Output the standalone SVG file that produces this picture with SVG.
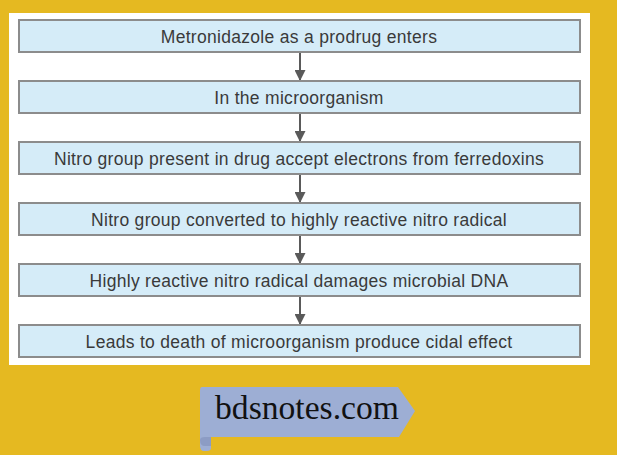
<svg xmlns="http://www.w3.org/2000/svg" width="617" height="455" viewBox="0 0 617 455">
<defs>
<style>
.box{fill:#d5ecf8;stroke:#8c8c8c;stroke-width:2}
.t{font-family:"Liberation Sans",Arial,sans-serif;font-size:17.5px;letter-spacing:0.3px;fill:#3a3a3a;text-anchor:middle}
.c{stroke:#5a5a5a;stroke-width:2;fill:none;marker-end:url(#ah)}
</style>
<marker id="ah" viewBox="0 0 10 10" refX="10" refY="5" markerWidth="5.5" markerHeight="5.5" orient="auto" markerUnits="strokeWidth">
<path d="M0,0L10,5L0,10z" fill="#5a5a5a"/>
</marker>
</defs>
<rect width="617" height="455" fill="#e5b921"/>
<rect x="9" y="13" width="581" height="352" fill="#ffffff"/>
<g id="connectors">
<line class="c" x1="300" y1="52" x2="300" y2="81"/>
<line class="c" x1="300" y1="113" x2="300" y2="142"/>
<line class="c" x1="300" y1="174" x2="300" y2="203"/>
<line class="c" x1="300" y1="235" x2="300" y2="264"/>
<line class="c" x1="300" y1="296" x2="300" y2="325"/>
</g>
<g id="n1"><rect class="box" x="19" y="20" width="561" height="32"/><text class="t" x="299" y="42.5">Metronidazole as a prodrug enters</text></g>
<g id="n2"><rect class="box" x="19" y="81" width="561" height="32"/><text class="t" x="299" y="103.5">In the microorganism</text></g>
<g id="n3"><rect class="box" x="19" y="142" width="561" height="32"/><text class="t" x="299" y="164.5">Nitro group present in drug accept electrons from ferredoxins</text></g>
<g id="n4"><rect class="box" x="19" y="203" width="561" height="32"/><text class="t" x="299" y="225.5">Nitro group converted to highly reactive nitro radical</text></g>
<g id="n5"><rect class="box" x="19" y="264" width="561" height="32"/><text class="t" x="299" y="286.5">Highly reactive nitro radical damages microbial DNA</text></g>
<g id="n6"><rect class="box" x="19" y="325" width="561" height="32"/><text class="t" x="299" y="347.5">Leads to death of microorganism produce cidal effect</text></g>
<g id="banner">
<path d="M202,387H398L415,411L399,437H211V448Q211,451 207,451H204Q200,451 200,446V390Q200,387 202,387z" fill="#9daed4"/>
<path d="M200,440Q200,446 205,446H211V437H205Q200,437 200,440z" fill="#8c9cc4"/>
<text x="307" y="419" font-family="'Liberation Serif','Times New Roman',serif" font-size="33" fill="#111" text-anchor="middle" textLength="184" lengthAdjust="spacingAndGlyphs">bdsnotes.com</text>
</g>
</svg>
